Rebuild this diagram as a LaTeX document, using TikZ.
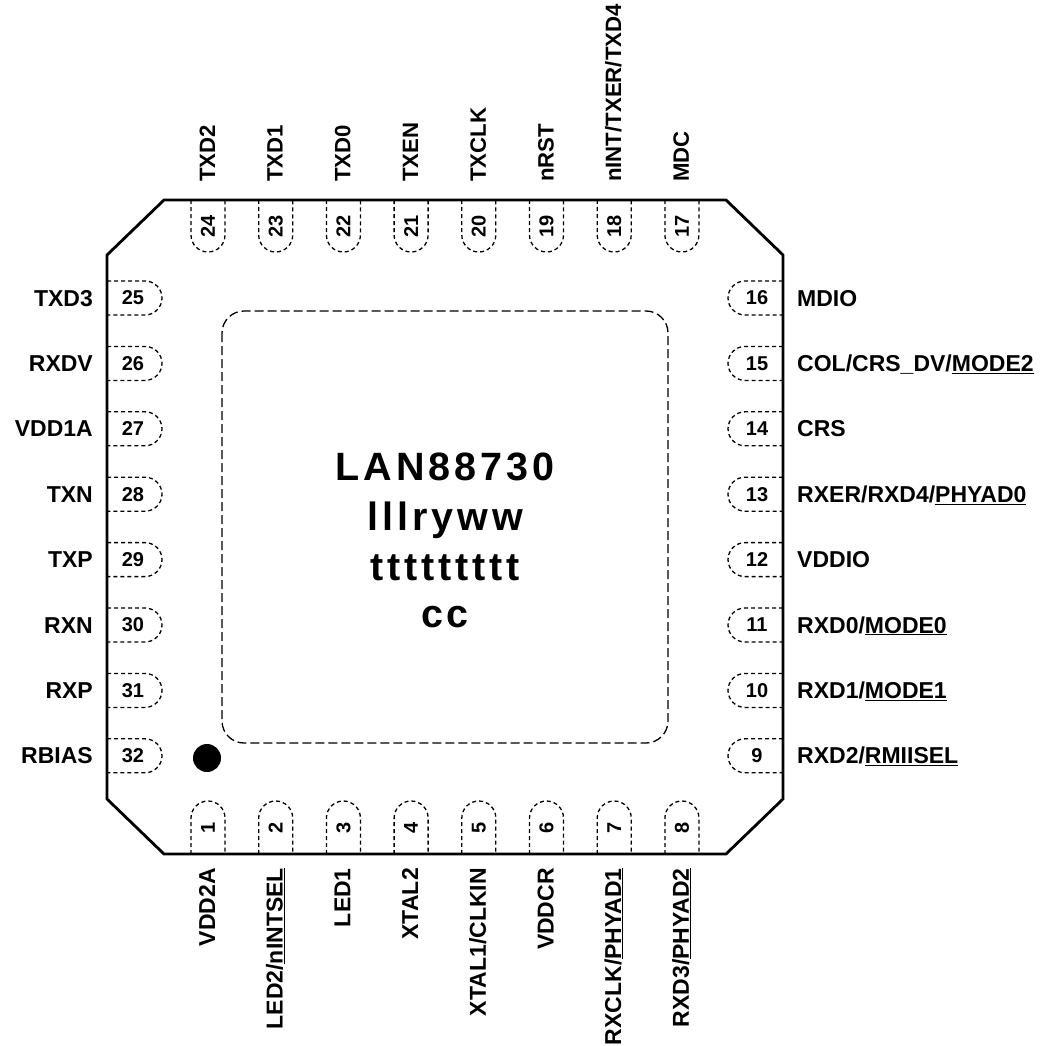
\documentclass[tikz,border=0pt]{standalone}
\usepackage{fontspec}
\setmainfont{Liberation Sans}
\newfontfamily\markfont{Liberation Sans Bold}[LetterSpace=10]

\tikzset{
	pad/.style={dash pattern=on 4pt off 3pt, line width=1.3pt},
	padnum/.style={font=\fontsize{20}{20}\selectfont\bfseries, inner sep=0pt},
	pinlabel/.style={font=\fontsize{23}{23}\selectfont\bfseries, inner sep=0pt},
	marktext/.style={font=\fontsize{39.5}{39.5}\selectfont\markfont, inner sep=0pt, anchor=base}
}

\begin{document}
\begin{tikzpicture}[x=1pt,y=-1pt]
	\useasboundingbox (0,0) rectangle (1044,1046);

	% Piazzole lato sinistro (25--32)
	\foreach \n/\t in {25/TXD3,26/RXDV,27/VDD1A,28/TXN,29/TXP,30/RXN,31/RXP,32/RBIAS}{
		\pgfmathsetmacro{\py}{298+65.4*(\n-25)}
		\draw[pad] (107,\py-17) -- (145,\py-17) arc (-90:90:17) -- (107,\py+17);
		\node[padnum] (n\n) at (133,\py) {\n};
		\node[pinlabel, anchor=base east] (s\n) at (93,\py+8) {\t};
	}

	% Piazzole lato destro (16--9)
	\foreach \n/\t in {16/MDIO,15/{COL/CRS\_DV/\underline{MODE2}},14/CRS,13/{RXER/RXD4/\underline{PHYAD0}},12/VDDIO,11/{RXD0/\underline{MODE0}},10/{RXD1/\underline{MODE1}},9/{RXD2/\underline{RMIISEL}}}{
		\pgfmathsetmacro{\py}{298+65.4*(16-\n)}
		\draw[pad] (783,\py-17) -- (745,\py-17) arc (-90:-270:17) -- (783,\py+17);
		\node[padnum] (n\n) at (757,\py) {\n};
		\node[pinlabel, anchor=base west] (s\n) at (797,\py+8) {\t};
	}

	% Piazzole lato superiore (24--17)
	\foreach \n/\t in {24/TXD2,23/TXD1,22/TXD0,21/TXEN,20/TXCLK,19/nRST,18/{nINT/TXER/TXD4},17/MDC}{
		\pgfmathsetmacro{\px}{208+67.7*(24-\n)}
		\draw[pad] (\px-17,200) -- (\px-17,235) arc (180:0:17) -- (\px+17,200);
		\node[padnum, rotate=90] (n\n) at (\px,226) {\n};
		\node[pinlabel, font=\fontsize{22.2}{22.2}\selectfont\bfseries, rotate=90, anchor=base west] (s\n) at (\px+7,182) {\t};
	}

	% Piazzole lato inferiore (1--8)
	\foreach \n/\t in {1/VDD2A,2/{LED2/\underline{nINTSEL}},3/LED1,4/XTAL2,5/{XTAL1/CLKIN},6/VDDCR,7/{RXCLK/\underline{PHYAD1}},8/{RXD3/\underline{PHYAD2}}}{
		\pgfmathsetmacro{\px}{208+67.7*(\n-1)}
		\draw[pad] (\px-17,854) -- (\px-17,818) arc (180:360:17) -- (\px+17,854);
		\node[padnum, rotate=90] (n\n) at (\px,828) {\n};
		\node[pinlabel, rotate=90, anchor=base east] (s\n) at (\px+7,868) {\t};
	}

	% Contorno del package
	\draw[line width=2.8pt, line join=miter]
	(164,200) -- (726,200) -- (783,255) -- (783,799) -- (726,854)
	-- (164,854) -- (107,799) -- (107,255) -- cycle;

	% Piazzola esposta
	\draw[dash pattern=on 9pt off 4pt, line width=1.3pt, rounded corners=22pt]
	(222,311) rectangle (668,743);

	% Indicatore pin 1
	\fill (207,758) circle (14);

	% Marcatura
	\node[marktext] (part) at (445,480) {LAN88730};
	\node[marktext] (lot) at (445,530) {lllryww};
	\node[marktext] (trace) at (445,580) {ttttttttt};
	\node[marktext] (country) at (445,627) {cc};

\end{tikzpicture}
\end{document}
